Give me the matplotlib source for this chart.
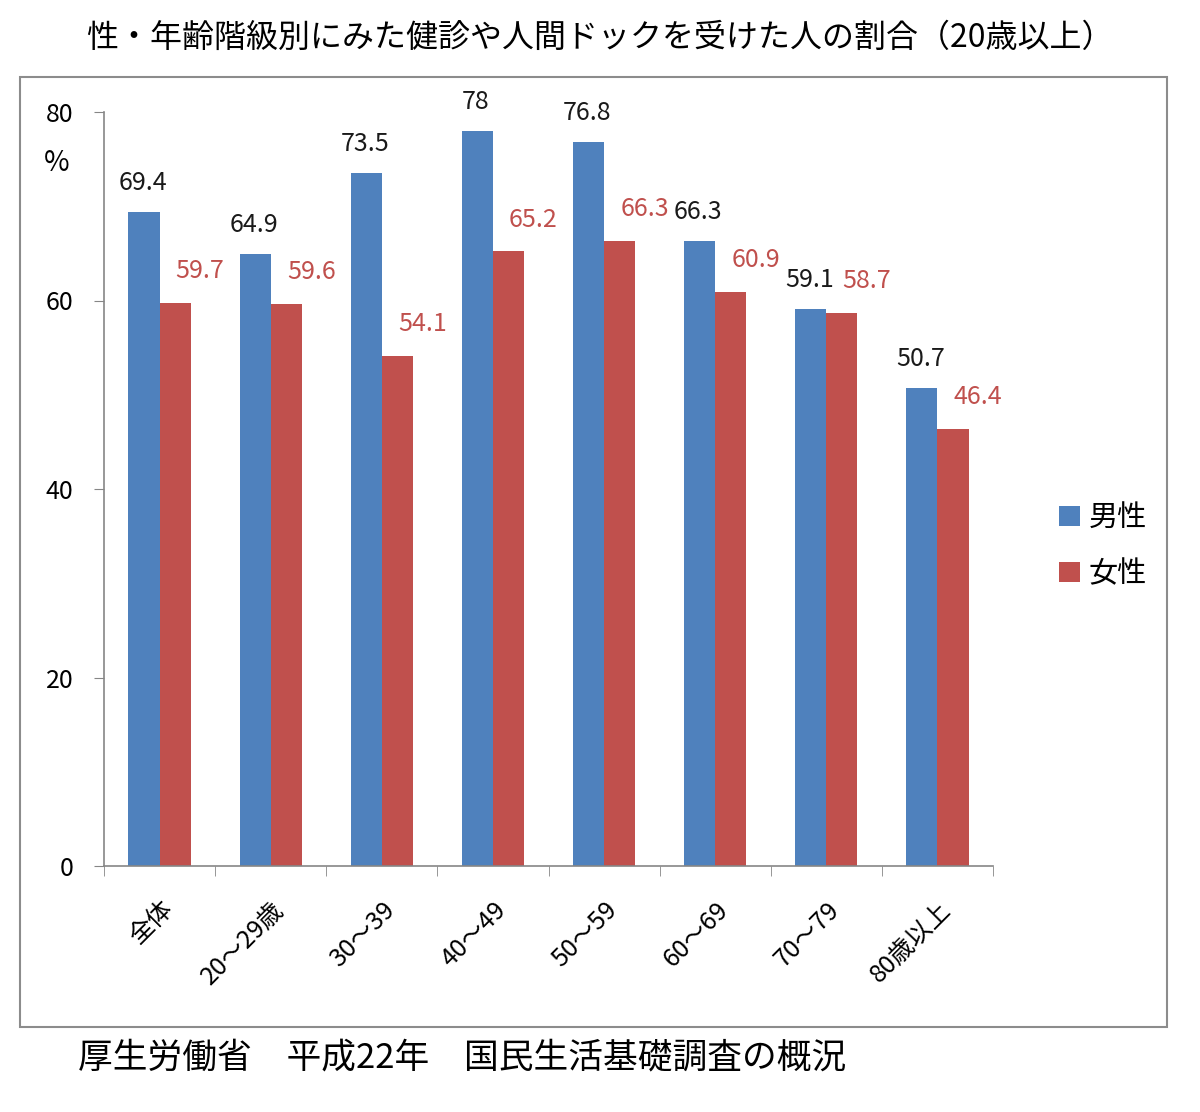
import matplotlib
matplotlib.use("Agg")
import matplotlib.pyplot as plt
import numpy as np
from matplotlib.patches import Rectangle

plt.rcParams['font.family'] = ['Noto Sans CJK JP', 'DejaVu Sans']

# data
categories = ['全体', '20～29歳', '30～39', '40～49', '50～59', '60～69', '70～79', '80歳以上']
male = [69.4, 64.9, 73.5, 78, 76.8, 66.3, 59.1, 50.7]
female = [59.7, 59.6, 54.1, 65.2, 66.3, 60.9, 58.7, 46.4]
male_labels = ['69.4', '64.9', '73.5', '78', '76.8', '66.3', '59.1', '50.7']
female_labels = ['59.7', '59.6', '54.1', '65.2', '66.3', '60.9', '58.7', '46.4']
y_ticks = [0, 20, 40, 60, 80]

blue = '#4f81bd'
red = '#c0504d'
axis_grey = '#868686'

fig = plt.figure(figsize=(12, 11.12), dpi=100)
ax = fig.add_axes([104 / 1200, 1 - 866 / 1112, (993 - 104) / 1200, (866 - 112) / 1112])

x = np.arange(len(categories))
w = 0.28
ax.bar(x - w / 2, male, w, color=blue, label='男性')
ax.bar(x + w / 2, female, w, color=red, label='女性')

# value labels: male above the bar, female above and shifted right
for i in range(len(categories)):
    ax.annotate(male_labels[i], (x[i] - w / 2, male[i]), xytext=(-1, 21),
                textcoords='offset points', ha='center', va='center',
                fontsize=18, color='#1a1a1a')
    ax.annotate(female_labels[i], (x[i] + w / 2, female[i]), xytext=(18, 23),
                textcoords='offset points', ha='center', va='center',
                fontsize=18, color=red)

ax.set_xlim(-0.5, len(categories) - 0.5)
ax.set_ylim(0, 80)
ax.set_yticks(y_ticks)
ax.set_yticklabels([str(v) for v in y_ticks], fontsize=18)
ax.set_xticks(x)
ax.set_xticklabels(categories, rotation=45, ha='right', rotation_mode='anchor', fontsize=18)
ax.set_xticks(np.arange(-0.5, len(categories)), minor=True)
ax.tick_params(axis='x', which='major', length=0, pad=22)
ax.tick_params(axis='x', which='minor', length=7, color=axis_grey, direction='out')
ax.tick_params(axis='y', length=7, color=axis_grey, direction='out', pad=15)

for side in ['top', 'right']:
    ax.spines[side].set_visible(False)
for side in ['left', 'bottom']:
    ax.spines[side].set_color(axis_grey)
    ax.spines[side].set_linewidth(1.2)

ax.text(-0.053, 0.933, '%', transform=ax.transAxes, fontsize=20, ha='center', va='center')

ax.legend(loc='center left', bbox_to_anchor=(1.045, 0.424), frameon=False,
          fontsize=21, handlelength=0.7, handleheight=0.7, handletextpad=0.3,
          labelspacing=0.9)

# outer frame
fig.patches.append(Rectangle((20 / 1200, 1 - 1027 / 1112), (1167 - 20) / 1200, (1027 - 77) / 1112,
                             transform=fig.transFigure, fill=False, edgecolor='#8c8c8c', linewidth=1.5))

fig.text(0.5, 1 - 38 / 1112, '性・年齢階級別にみた健診や人間ドックを受けた人の割合（20歳以上）',
         ha='center', va='center', fontsize=23)
fig.text(78 / 1200, 1 - 1058 / 1112, '厚生労働省　平成22年　国民生活基礎調査の概況',
         ha='left', va='center', fontsize=25)

fig.savefig('out.png', dpi=100)
